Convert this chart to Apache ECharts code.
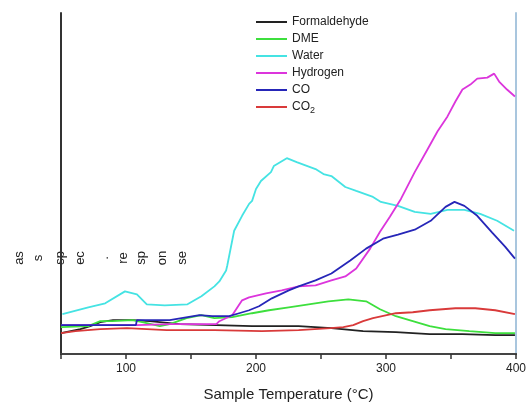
<!DOCTYPE html>
<html>
<head>
<meta charset="utf-8">
<script src="https://cdn.jsdelivr.net/npm/echarts@6/dist/echarts.min.js"></script>
<style>html,body{margin:0;padding:0;background:#fff}#c{width:529px;height:407px}</style>
</head>
<body>
<div id="c"></div>
<script>
// Temperature (°C) and signal (arbitrary units)
const formaldehyde = [[50,21],[64.9,25],[72.5,28],[80.2,32],[90.1,34],[105.3,34],[118.3,33],[141.2,30],[169.5,29],[197,28],[232.8,28],[258,26],[282.4,23],[307.6,22],[333.6,20],[358.8,20],[384,19],[399.2,19]];
const dme = [[50,27],[71,28],[80.2,33],[89.3,33],[105.3,34],[116,31],[126,28],[133.6,30],[146.6,36],[158,39],[168,36],[181.7,37],[197,41],[210,44],[225.2,47],[240.5,50],[255.7,53],[271,55],[284.7,53],[295.4,45],[307.6,38],[320.6,33],[333.6,28],[345.8,25],[364.1,23],[384,21],[399.2,21]];
const water = [[51.1,40],[71,47],[84,51],[99.2,63],[108.4,60],[116,50],[129.8,49],[147.3,50],[158,58],[168,68],[171.8,73],[177,84],[177.9,89],[183.2,124],[189.3,139],[194.7,151],[197,154],[200,166],[203.8,174],[211.5,183],[213.7,189],[223.7,197],[231.3,193],[245.8,186],[251.9,181],[258,179],[268.7,168],[277.1,164],[290,158],[296.1,153],[309.2,149],[322.1,143],[334.4,141],[347.3,145],[360.3,145],[372.5,141],[385.5,134],[398.5,124]];
const hydrogen = [[50,29],[108.4,29],[133.6,30],[169.5,30],[171.8,33],[181.7,39],[189.3,54],[194.7,57],[207.7,61],[219.8,64],[232.8,68],[245.8,69],[258,74],[268.7,78],[277.1,86],[287.8,106],[295.4,123],[303,138],[311.5,156],[322.1,183],[332,206],[339.7,224],[347.3,239],[353.4,254],[358.8,266],[364.9,271],[370.2,277],[377.9,278],[383.2,282],[387,274],[393.1,266],[399.2,259]];
const co = [[50,29],[107.6,29],[108.4,34],[133.6,34],[156.5,39],[166.4,38],[179.4,38],[187,41],[194.7,44],[202.3,48],[212.2,56],[225.2,64],[232.8,68],[245.8,74],[258,81],[272.5,94],[284.7,106],[297.7,116],[309.2,120],[322.1,125],[334.4,134],[345.8,148],[352.7,153],[360.3,149],[370.2,139],[381.7,122],[391.6,108],[399.2,96]];
const co2 = [[50,21],[61.1,23],[80.2,25],[100.8,26],[131.3,24],[168,24],[204.6,23],[232.8,24],[257.3,26],[267.2,27],[274.8,29],[282.4,33],[290,36],[307.6,41],[320.6,42],[333.6,44],[353.4,46],[368.7,46],[384,44],[399.2,40]];
const seriesNames = ['Formaldehyde','DME','Water','Hydrogen','CO','CO2'];
const seriesColors = ['#222222','#3ddf3d','#45e3e3','#dc35dc','#2626b8','#d93a3a'];
const seriesData = [formaldehyde, dme, water, hydrogen, co, co2];
const xTicks = [100, 200, 300, 400];
const yLabelPieces = ['as','s','sp','ec','.','re','sp','on','se'];
const yLabelX = [19,38,60,80,104,123,141,162,182];

const font = '"Liberation Sans", Arial, sans-serif';
const chart = echarts.init(document.getElementById('c'), null, {renderer:'canvas'});
chart.setOption({
  animation: false,
  backgroundColor: '#fff',
  grid: {left: 61, right: 11, top: 13, bottom: 51},
  legend: {
    orient: 'vertical', left: 256, top: 15, padding: 0,
    icon: 'rect', itemWidth: 31, itemHeight: 2, itemGap: 3,
    data: seriesNames,
    textStyle: {fontFamily: font, fontSize: 12, color: '#222', lineHeight: 14,
      rich: {s: {fontSize: 9, fontFamily: font, color:'#222', padding:[7,0,0,0]}}},
    formatter: n => n === 'CO2' ? 'CO{s|2}' : n
  },
  xAxis: [{
    type: 'value', min: 50, max: 400, interval: 50,
    name: 'Sample Temperature (°C)', nameLocation: 'middle', nameGap: 33,
    nameTextStyle: {fontFamily: font, fontSize: 15, color: '#222'},
    axisLine: {lineStyle: {color: '#333', width: 2}},
    axisTick: {show: true, length: 5, lineStyle: {color: '#333', width: 1.5}},
    axisLabel: {fontFamily: font, fontSize: 12, color: '#222', margin: 9,
      formatter: v => xTicks.indexOf(v) >= 0 ? String(v) : ''},
    splitLine: {show: false}
  }, {
    type: 'value', min: 50, max: 400, position: 'top',
    axisLine: {show: true, lineStyle: {color: '#444', width: 2}},
    axisTick: {show: false}, axisLabel: {show: false}, splitLine: {show: false}
  }],
  yAxis: [{
    type: 'value', min: 0, max: 343,
    axisLine: {show: true, lineStyle: {color: '#333', width: 2}},
    axisTick: {show: false}, axisLabel: {show: false}, splitLine: {show: false}
  }, {
    type: 'value', min: 0, max: 343, position: 'right',
    axisLine: {show: true, lineStyle: {color: '#a9c6de', width: 2}},
    axisTick: {show: false}, axisLabel: {show: false}, splitLine: {show: false}
  }],
  graphic: yLabelPieces.map((t, i) => ({
    type: 'text', x: yLabelX[i], y: 258, rotation: Math.PI / 2,
    style: {text: t, fontFamily: font, fontSize: 13, fill: '#222', align: 'center', verticalAlign: 'middle'}
  })),
  series: seriesNames.map((n, i) => ({
    name: n, type: 'line', data: seriesData[i], symbol: 'none', showSymbol: false,
    lineStyle: {color: seriesColors[i], width: 1.8}, itemStyle: {color: seriesColors[i]},
    z: 3
  }))
});
</script>
</body>
</html>
